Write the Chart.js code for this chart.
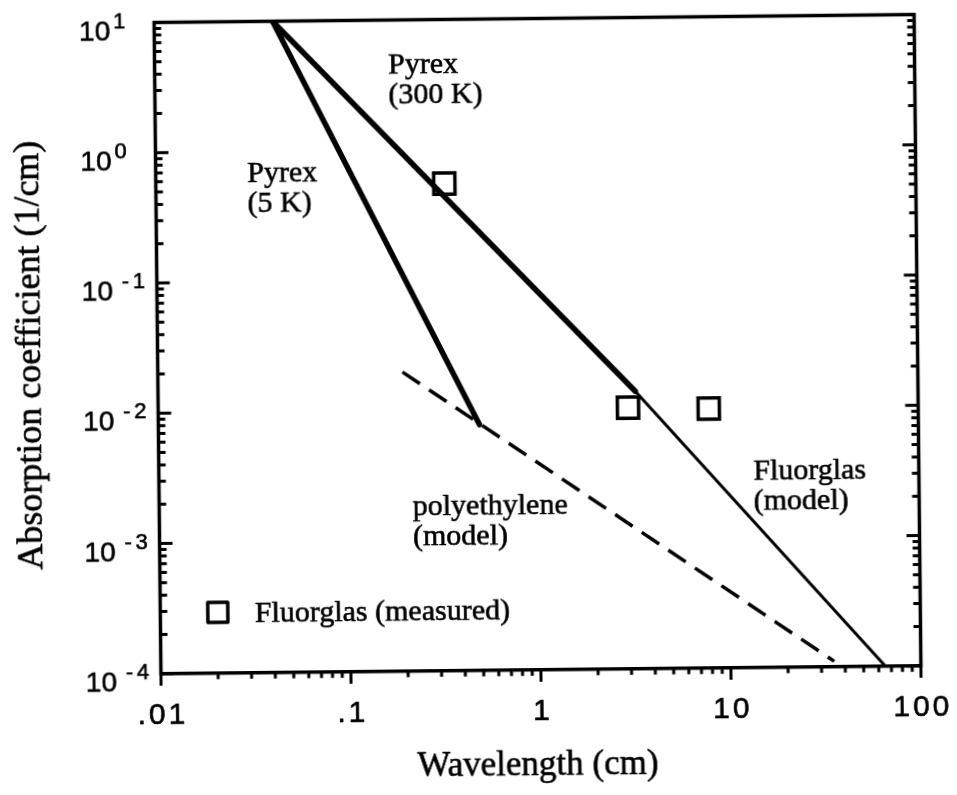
<!DOCTYPE html>
<html>
<head>
<meta charset="utf-8">
<script src="https://cdn.jsdelivr.net/npm/chart.js@4.4.1/dist/chart.umd.min.js"></script>
<style>
html,body{margin:0;padding:0;background:#fff;overflow:hidden;width:957px;height:795px;}
#c{display:block;transform:rotate(-0.6deg);transform-origin:537.5px 343.75px;}
</style>
</head>
<body>
<canvas id="c" width="957" height="795"></canvas>
<script>
// ---- data ----
const xTickValues = [0.01, 0.1, 1, 10, 100];
const xTickLabels = ['.01', '.1', '1', '10', '100'];
const yTickExponents = [1, 0, -1, -2, -3, -4];

const pyrex300X = [0.042, 3.25];
const pyrex300Y = [10, 0.0135];

const pyrex5X = [0.042, 0.49];
const pyrex5Y = [10, 0.0077];

const fluorModelX = [3.25, 65];
const fluorModelY = [0.0135, 0.0001];

const polyX = [0.194, 35];
const polyY = [0.0198, 0.00011];

const fluorMeasX = [0.33, 2.97, 7.9];
const fluorMeasY = [0.55, 0.0101, 0.0098];

const annotations = [
  {lines: ['Pyrex', '(300 K)'], x: 391, y: 72},
  {lines: ['Pyrex', '(5 K)'], x: 249, y: 179},
  {lines: ['polyethylene', '(model)'], x: 411, y: 514},
  {lines: ['Fluorglas', '(model)'], x: 752, y: 482}
];
const legendLabel = 'Fluorglas (measured)';
const xTitle = 'Wavelength (cm)';
const yTitle = 'Absorption coefficient (1/cm)';

function pts(xs, ys) { return xs.map((v, i) => ({x: v, y: ys[i]})); }

const SERIF = '"Liberation Serif", "Times New Roman", serif';
const SANS = '"Liberation Sans", Arial, Helvetica, sans-serif';

function txt(ctx, t, x, y) {
  ctx.fillText(t, x, y);
  ctx.strokeText(t, x, y);
}

function drawSpaced(ctx, text, cx, y, spacing) {
  const ws = [...text].map(ch => ctx.measureText(ch).width);
  const total = ws.reduce((a, b) => a + b, 0) + spacing * (ws.length - 1);
  let x = cx - total / 2;
  ctx.textAlign = 'left';
  [...text].forEach((ch, i) => { txt(ctx, ch, x, y); x += ws[i] + spacing; });
}

const framePlugin = {
  id: 'frame',
  afterDatasetsDraw(chart) {
    const {ctx, chartArea: a, scales: {x, y}} = chart;
    ctx.save();
    ctx.strokeStyle = '#000';
    ctx.fillStyle = '#000';
    ctx.lineCap = 'butt';
    // frame
    ctx.lineWidth = 3.5;
    ctx.strokeRect(a.left, a.top, a.right - a.left, a.bottom - a.top);
    // y ticks (inward on left and right)
    ctx.lineWidth = 3;
    ctx.beginPath();
    for (let d = -4; d <= 1; d++) {
      for (let m = 1; m <= 9; m++) {
        const v = m * Math.pow(10, d);
        if (v > 10 * 1.0001) continue;
        const py = y.getPixelForValue(v);
        const len = m === 1 ? 13 : 7;
        ctx.moveTo(a.left, py); ctx.lineTo(a.left + len, py);
        ctx.moveTo(a.right, py); ctx.lineTo(a.right - len, py);
      }
    }
    // x ticks (outward on bottom)
    for (let d = -2; d <= 2; d++) {
      for (let m = 1; m <= 9; m++) {
        const v = m * Math.pow(10, d);
        if (v > 100 * 1.0001) continue;
        const px = x.getPixelForValue(v);
        const len = m === 1 ? 12 : 6;
        ctx.moveTo(px, a.bottom); ctx.lineTo(px, a.bottom + len);
      }
    }
    ctx.stroke();

    ctx.lineWidth = 0.6;
    ctx.lineJoin = 'round';
    // x tick labels
    ctx.font = '30px ' + SANS;
    ctx.textBaseline = 'alphabetic';
    xTickValues.forEach((v, i) => {
      drawSpaced(ctx, xTickLabels[i], x.getPixelForValue(v), a.bottom + 50, 3);
    });
    // y tick labels 10^n
    yTickExponents.forEach(e => {
      const py = y.getPixelForValue(Math.pow(10, e));
      const rx = a.left - 44;
      ctx.font = '28px ' + SANS;
      ctx.textAlign = 'right';
      txt(ctx, '10', rx, py + 17);
      ctx.font = '22px ' + SANS;
      ctx.textAlign = 'left';
      if (e < 0) {
        txt(ctx, '-', rx + 9, py + 5);
        txt(ctx, String(-e), rx + 20, py + 5);
      } else {
        txt(ctx, String(e), rx + 3, py + 5);
      }
    });

    // axis titles
    ctx.font = '35px ' + SERIF;
    ctx.textAlign = 'center';
    txt(ctx, xTitle, (a.left + a.right) / 2 - 4, 775);
    ctx.save();
    ctx.translate(40, 350);
    ctx.rotate(-Math.PI / 2);
    ctx.font = '36px ' + SERIF;
    ctx.textAlign = 'center';
    txt(ctx, yTitle, 0, 0);
    ctx.restore();

    // annotations
    ctx.font = '30px ' + SERIF;
    ctx.textAlign = 'left';
    annotations.forEach(an => {
      an.lines.forEach((t, i) => txt(ctx, t, an.x, an.y + i * 30));
    });
    txt(ctx, legendLabel, 252, 619);

    // legend marker
    ctx.lineWidth = 3.5;
    ctx.fillStyle = '#fff';
    ctx.fillRect(205, 599, 20, 20);
    ctx.strokeRect(205, 599, 20, 20);
    ctx.restore();
  }
};

new Chart(document.getElementById('c'), {
  type: 'scatter',
  data: {
    datasets: [
      {label: 'Pyrex (300 K)', data: pts(pyrex300X, pyrex300Y), showLine: true,
       borderColor: '#000', borderWidth: 5.5, pointRadius: 0, borderCapStyle: 'round'},
      {label: 'Pyrex (5 K)', data: pts(pyrex5X, pyrex5Y), showLine: true,
       borderColor: '#000', borderWidth: 5.5, pointRadius: 0, borderCapStyle: 'round'},
      {label: 'Fluorglas (model)', data: pts(fluorModelX, fluorModelY), showLine: true,
       borderColor: '#000', borderWidth: 3, pointRadius: 0},
      {label: 'polyethylene (model)', data: pts(polyX, polyY), showLine: true,
       borderColor: '#000', borderWidth: 3.5, borderDash: [21, 11], pointRadius: 0},
      {label: 'Fluorglas (measured)', data: pts(fluorMeasX, fluorMeasY), showLine: false,
       pointStyle: 'rect', pointRadius: 15, pointBorderWidth: 3.5,
       pointBorderColor: '#000', pointBackgroundColor: '#fff'}
    ]
  },
  options: {
    responsive: false,
    animation: false,
    events: [],
    layout: {padding: {top: 17.75, right: 39.5, left: 0, bottom: 0}},
    plugins: {legend: {display: false}, tooltip: {enabled: false}},
    scales: {
      x: {type: 'logarithmic', min: 0.01, max: 100,
          grid: {display: false}, border: {display: false}, ticks: {display: false},
          afterFit(s) { s.height = 125.25; }},
      y: {type: 'logarithmic', min: 0.0001, max: 10,
          grid: {display: false}, border: {display: false}, ticks: {display: false},
          afterFit(s) { s.width = 157.5; }}
    }
  },
  plugins: [framePlugin]
});
</script>
</body>
</html>
